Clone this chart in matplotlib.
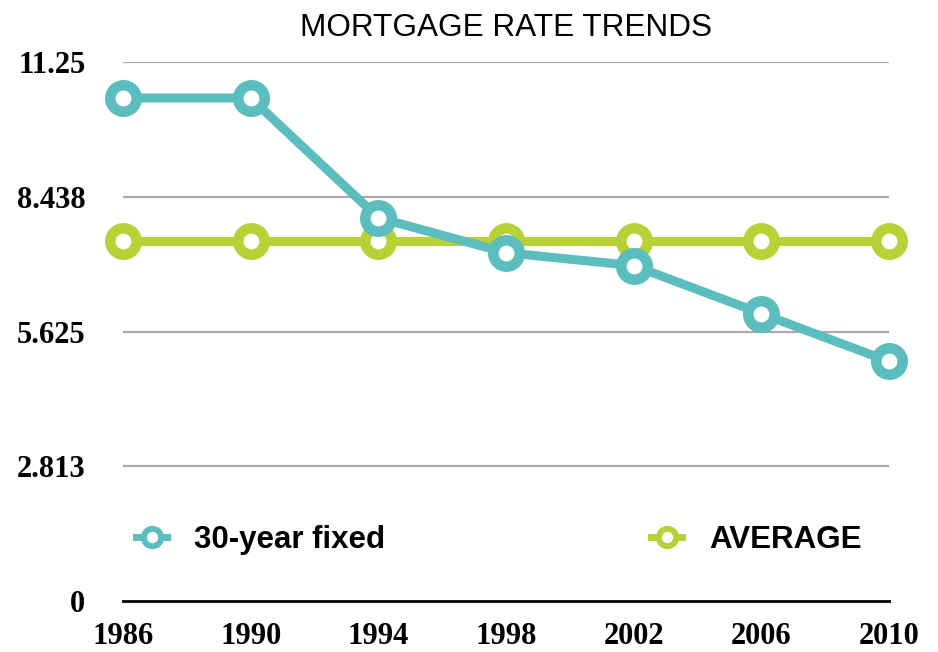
import matplotlib
matplotlib.use('Agg')
import matplotlib.pyplot as plt
from matplotlib.lines import Line2D

years = [1986, 1990, 1994, 1998, 2002, 2006, 2010]
fixed_30 = [10.5, 10.5, 8.0, 7.27, 7.0, 6.0, 5.0]
average = [7.52, 7.52, 7.52, 7.52, 7.52, 7.52, 7.52]
yticks = [0, 2.813, 5.625, 8.438, 11.25]
ytick_labels = ['0', '2.813', '5.625', '8.438', '11.25']

teal = '#5BBDBD'
green = '#B8D136'

fig = plt.figure(figsize=(9.38, 6.52), dpi=100)
ax = fig.add_axes([0.1311, 0.0782, 0.8167, 0.8267])

# rings: outer ~36px, white hole ~15px
ax.plot(years, average, color=green, lw=6.5, marker='o', ms=19, mew=7.6,
        mfc='white', mec=green, clip_on=False, zorder=3)
ax.plot(years, fixed_30, color=teal, lw=6.5, marker='o', ms=19, mew=7.6,
        mfc='white', mec=teal, clip_on=False, zorder=4)

ax.set_xlim(1986, 2010)
ax.set_ylim(0, 11.25)
ax.set_xticks(years)
ax.set_yticks(yticks)
ax.set_yticklabels(ytick_labels)
for v in yticks[1:]:
    ax.axhline(v, color='#AAAAAA', lw=1.6, zorder=1)

for s in ['top', 'right', 'left']:
    ax.spines[s].set_visible(False)
ax.spines['bottom'].set_linewidth(2)
ax.spines['bottom'].set_color('black')
ax.tick_params(length=0)
ax.tick_params(axis='y', pad=27)
ax.tick_params(axis='x', pad=15)
for lab in ax.get_xticklabels() + ax.get_yticklabels():
    lab.set_fontfamily('Liberation Serif')
    lab.set_fontweight('bold')
    lab.set_fontsize(22)

ax.set_title('MORTGAGE RATE TRENDS', fontfamily='Liberation Sans', fontsize=22.7, pad=19)

handles = [
    Line2D([], [], color=teal, lw=5, marker='o', ms=12.5, mew=4.3, mfc='white', mec=teal),
    Line2D([], [], color=green, lw=5, marker='o', ms=12.5, mew=4.3, mfc='white', mec=green),
]
ax.legend(handles, ['30-year fixed', 'AVERAGE'], ncol=2, loc='center',
          bbox_to_anchor=(0.491, 0.113), frameon=False, handlelength=1.0,
          columnspacing=8.5, handletextpad=0.87,
          prop={'family': 'Liberation Sans', 'weight': 'bold', 'size': 22.5})

fig.savefig('out.png', dpi=100)
